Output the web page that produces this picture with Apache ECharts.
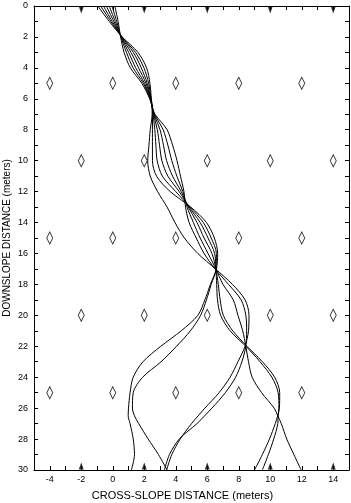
<!DOCTYPE html>
<html>
<head>
<meta charset="utf-8">
<script src="https://cdn.jsdelivr.net/npm/echarts@6/dist/echarts.min.js"></script>
<style>
  html, body { margin: 0; padding: 0; background: #fff; }
  #chart { width: 351px; height: 503px; }
</style>
</head>
<body>
<div id="chart"></div>
<script>
// downslope stations (m) shared by every path
const downslope = [0, 1, 2, 3, 4, 5, 6, 6.5, 7, 8, 9, 10, 11, 12, 13, 14, 15, 16, 17,
  18, 19, 20, 21, 22, 23, 24, 25, 26, 26.5, 27, 28, 29, 30];

// cross-slope position of each path at those stations
const path1 = [-0.95, -0.22, 0.60, 1.60, 2.15, 2.36, 2.45, 2.50, 2.50, 2.38, 2.30, 2.22, 2.38, 2.85, 3.45, 3.95, 4.55, 5.40, 6.52,
  7.60, 8.40, 8.65, 8.62, 8.40, 7.95, 7.45, 6.75, 5.85, 5.42, 5.00, 4.28, 3.75, 3.42];
const path2 = [-0.77, -0.12, 0.58, 1.45, 1.98, 2.28, 2.43, 2.50, 2.53, 2.52, 2.52, 2.52, 2.78, 3.65, 4.95, 5.95, 6.45, 6.66, 6.58,
  6.20, 5.85, 5.40, 4.35, 3.05, 1.92, 1.30, 1.10, 1.00, 0.98, 1.10, 1.30, 1.38, 1.18];
const path3 = [-0.59, -0.03, 0.57, 1.31, 1.81, 2.19, 2.42, 2.50, 2.56, 2.67, 2.74, 2.82, 3.15, 4.00, 4.90, 5.75, 6.25, 6.58, 6.56,
  6.25, 5.95, 5.58, 4.93, 4.05, 3.07, 1.90, 1.30, 1.25, 1.38, 1.65, 2.25, 2.90, 3.45];
const path4 = [-0.41, 0.07, 0.55, 1.16, 1.64, 2.11, 2.40, 2.50, 2.59, 2.83, 2.97, 3.12, 3.50, 4.22, 4.85, 5.55, 6.05, 6.47, 6.55,
  6.60, 6.65, 6.85, 7.45, 8.45, 9.35, 10.10, 10.50, 10.55, 10.50, 10.48, 10.22, 9.88, 9.50];
const path5 = [-0.23, 0.16, 0.53, 1.01, 1.46, 2.02, 2.38, 2.50, 2.62, 3.00, 3.22, 3.42, 3.80, 4.35, 4.80, 5.35, 5.80, 6.30, 6.55,
  6.70, 6.82, 7.02, 7.62, 8.52, 9.50, 10.28, 10.60, 10.58, 10.47, 10.32, 9.95, 9.50, 9.00];
const path6 = [-0.05, 0.25, 0.52, 0.87, 1.29, 1.94, 2.37, 2.50, 2.65, 3.20, 3.50, 3.75, 4.07, 4.45, 4.72, 5.12, 5.55, 6.05, 6.55,
  7.00, 7.65, 7.95, 8.25, 8.45, 8.62, 8.85, 9.45, 10.25, 10.48, 10.70, 11.05, 11.50, 11.96];
const path7 = [0.13, 0.34, 0.50, 0.72, 1.12, 1.85, 2.35, 2.50, 2.68, 3.45, 3.80, 4.08, 4.30, 4.52, 4.62, 4.85, 5.30, 5.80, 6.50,
  7.35, 8.15, 8.45, 8.50, 8.45, 8.20, 7.80, 7.15, 6.30, 5.83, 5.35, 4.22, 3.60, 3.28];
const paths = [path1, path2, path3, path4, path5, path6, path7];

// obstacle grid (diamonds) and edge markers (triangles)
const rowsA = [5, 15, 25];
const colsA = [-4, 0, 4, 8, 12];
const rowsB = [10, 20];
const colsB = [-2, 2, 6, 10, 14];
const triangleCols = [-2, 2, 6, 10, 14];

const chart = echarts.init(document.getElementById("chart"));

const font = "Liberation Sans, Arial, sans-serif";

const diamonds = [];
rowsA.forEach(r => colsA.forEach(c => diamonds.push([c, r])));
rowsB.forEach(r => colsB.forEach(c => diamonds.push([c, r])));

const lineSeries = paths.map(p => ({
  type: "line",
  data: p.map((x, i) => [x, downslope[i]]),
  showSymbol: false,
  smooth: 0.3,
  lineStyle: { color: "#000", width: 1 },
  silent: true,
  z: 3
}));

function evenLabel(v) {
  return v % 2 === 0 ? String(v) : "";
}

const baseAxis = {
  axisLine: { onZero: false, lineStyle: { color: "#000", width: 1 } },
  axisTick: { inside: true, length: 4, lineStyle: { color: "#000" } },
  splitLine: { show: false }
};

chart.setOption({
  animation: false,
  textStyle: { fontFamily: font },
  grid: { left: 34, right: 2, top: 6, bottom: 33, outerBoundsMode: "none" },
  xAxis: [
    Object.assign({}, baseAxis, {
      type: "value", min: -5, max: 15, interval: 1, position: "bottom",
      axisLabel: {
        interval: 0, fontSize: 9, color: "#000", margin: 5,
        formatter: v => (v > -5 && v < 15 ? evenLabel(v) : "")
      },
      name: "CROSS-SLOPE DISTANCE (meters)",
      nameLocation: "middle", nameGap: 20,
      nameTextStyle: { fontSize: 11, color: "#000", padding: [0, 18, 0, 0] }
    }),
    Object.assign({}, baseAxis, {
      type: "value", min: -5, max: 15, interval: 1, position: "top",
      axisLabel: { show: false }
    })
  ],
  yAxis: [
    Object.assign({}, baseAxis, {
      type: "value", min: 0, max: 30, interval: 1, inverse: true, position: "left",
      axisLabel: { interval: 0, fontSize: 9, color: "#000", margin: 6, formatter: evenLabel },
      name: "DOWNSLOPE DISTANCE (meters)",
      nameLocation: "middle", nameGap: 22, nameRotate: 90, nameMoveOverlap: false,
      nameTextStyle: { fontSize: 10, color: "#000" }
    }),
    Object.assign({}, baseAxis, {
      type: "value", min: 0, max: 30, interval: 1, inverse: true, position: "right",
      axisLabel: { show: false }
    })
  ],
  series: lineSeries.concat([
    {
      type: "scatter",
      data: diamonds,
      symbol: "diamond",
      symbolSize: [6, 12],
      itemStyle: { color: "#fff", borderColor: "#000", borderWidth: 1 },
      silent: true,
      z: 4
    },
    {
      type: "scatter",
      data: triangleCols.map(c => [c, 0]),
      symbol: "triangle",
      symbolRotate: 180,
      symbolSize: [5, 7],
      symbolOffset: [0, 4],
      itemStyle: { color: "#000" },
      silent: true,
      clip: false,
      z: 4
    },
    {
      type: "scatter",
      data: triangleCols.map(c => [c, 30]),
      symbol: "triangle",
      symbolSize: [5, 7],
      symbolOffset: [0, -4],
      itemStyle: { color: "#000" },
      silent: true,
      clip: false,
      z: 4
    }
  ])
});

window.addEventListener("resize", () => chart.resize());
</script>
</body>
</html>
